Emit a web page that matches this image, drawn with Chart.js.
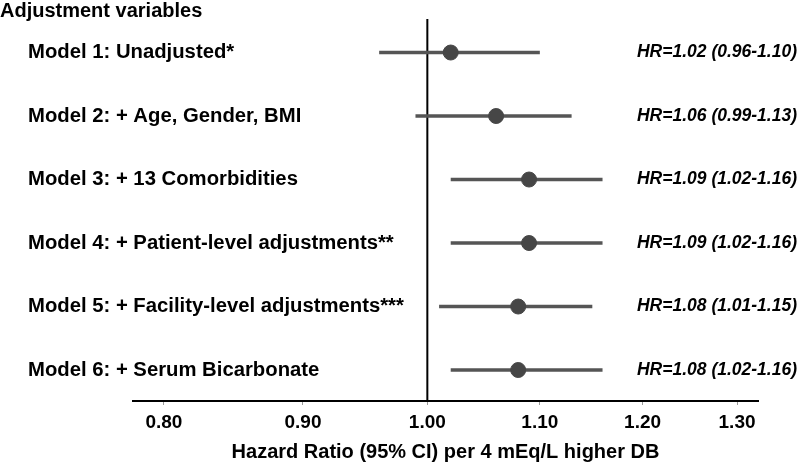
<!DOCTYPE html>
<html>
<head>
<meta charset="utf-8">
<script src="https://cdn.jsdelivr.net/npm/chart.js@4"></script>
<style>
html,body{margin:0;padding:0;background:#fff;}
#wrap{position:relative;width:800px;height:465px;}
</style>
</head>
<body>
<div id="wrap"><canvas id="c" width="800" height="465"></canvas></div>
<script>
const models = [
  "Model 1: Unadjusted*",
  "Model 2: + Age, Gender, BMI",
  "Model 3: + 13 Comorbidities",
  "Model 4: + Patient-level adjustments**",
  "Model 5: + Facility-level adjustments***",
  "Model 6: + Serum Bicarbonate"
];
const hr = [1.02, 1.06, 1.09, 1.09, 1.08, 1.08];
const ciLow = [0.96, 0.99, 1.02, 1.02, 1.01, 1.02];
const ciHigh = [1.10, 1.13, 1.16, 1.16, 1.15, 1.16];
const xTicks = [0.80, 0.90, 1.00, 1.10, 1.20, 1.30];
const headerText = "Adjustment variables";
const xTitle = "Hazard Ratio (95% CI) per 4 mEq/L higher DB";

const FONT = "'Liberation Sans', Arial, Helvetica, sans-serif";
const Y_MIN = 0.472, Y_MAX = 6.488;

const datasets = [];
// reference line at HR = 1
datasets.push({
  type: 'line',
  data: [{x: 1, y: Y_MIN}, {x: 1, y: Y_MAX}],
  borderColor: '#000',
  borderWidth: 2,
  pointRadius: 0,
  order: 3
});
// CI lines
models.forEach((m, i) => {
  datasets.push({
    type: 'line',
    data: [{x: ciLow[i], y: i + 1}, {x: ciHigh[i], y: i + 1}],
    borderColor: '#555555',
    borderWidth: 3.5,
    pointRadius: 0,
    order: 2
  });
});
// point estimates
datasets.push({
  type: 'scatter',
  data: hr.map((v, i) => ({x: v, y: i + 1})),
  backgroundColor: '#464646',
  borderColor: '#464646',
  pointRadius: 7.5,
  order: 1
});

const labelsPlugin = {
  id: 'labels',
  afterDraw(chart) {
    const ctx = chart.ctx;
    const ys = chart.scales.y;
    ctx.save();
    ctx.fillStyle = '#000';
    ctx.textBaseline = 'middle';
    ctx.textAlign = 'left';
    ctx.font = 'bold 20px ' + FONT;
    ctx.fillText(headerText, 0, 11);
    models.forEach((m, i) => {
      const y = ys.getPixelForValue(i + 1);
      ctx.font = 'bold 20.3px ' + FONT;
      ctx.textAlign = 'left';
      ctx.fillText(m, 28, y);
      ctx.font = 'italic bold 17.5px ' + FONT;
      ctx.textAlign = 'right';
      ctx.fillText('HR=' + hr[i].toFixed(2) + ' (' + ciLow[i].toFixed(2) + '-' + ciHigh[i].toFixed(2) + ')', 797, y);
    });
    ctx.restore();
  }
};

new Chart(document.getElementById('c'), {
  data: {datasets},
  plugins: [labelsPlugin],
  options: {
    responsive: false,
    animation: false,
    events: [],
    layout: {padding: {left: 133, right: 42, top: 19, bottom: 1}},
    plugins: {legend: {display: false}, tooltip: {enabled: false}},
    scales: {
      x: {
        type: 'logarithmic',
        min: 0.7793,
        max: 1.3233,
        afterBuildTicks(scale) {
          scale.ticks = xTicks.map(v => ({value: v}));
        },
        afterFit(scale) {
          scale.height = 63;
        },
        border: {display: true, color: '#000', width: 2},
        grid: {display: true, drawOnChartArea: false, drawTicks: true, tickLength: 4, color: '#999'},
        ticks: {
          autoSkip: false,
          maxRotation: 0,
          color: '#000',
          padding: 6,
          font: {family: FONT, size: 19, weight: 'bold'},
          callback: (v) => Number(v).toFixed(2)
        },
        title: {
          display: true,
          text: xTitle,
          color: '#000',
          font: {family: FONT, size: 20, weight: 'bold'},
          padding: {top: 0, bottom: 0}
        }
      },
      y: {
        type: 'linear',
        min: Y_MIN,
        max: Y_MAX,
        reverse: true,
        display: false
      }
    }
  }
});
</script>
</body>
</html>
